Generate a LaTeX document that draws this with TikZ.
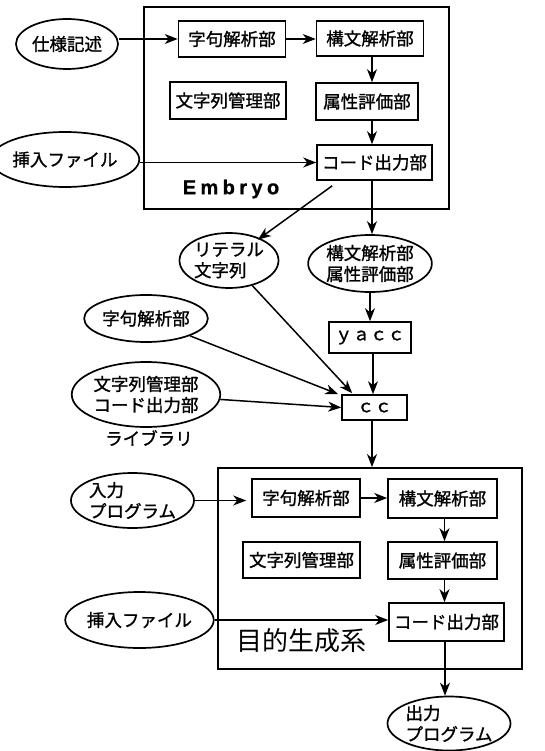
\documentclass[tikz,border=0pt]{standalone}
\usepackage{fontspec}
\setmainfont{Noto Sans CJK JP}
\newfontfamily\jpb[FakeBold=1.2]{Noto Sans CJK JP}
\newfontfamily\embfont[LetterSpace=22,FakeBold=1]{Liberation Sans Bold}
\usetikzlibrary{shapes.geometric,arrows.meta,calc}
\tikzset{
  arr/.style={-{Stealth[length=13pt,width=10pt,inset=4pt]},line width=1.5pt},
  lbox/.style={draw,line width=1.6pt,rectangle,inner sep=0pt,font=\jpb\fontsize{17.5}{21}\selectfont},
  oval/.style={draw,line width=1.7pt,ellipse,inner sep=0pt,font=\jpb\fontsize{17.5}{21}\selectfont},
  frame/.style={draw,line width=1.8pt},
  lbl/.style={inner sep=0pt,font=\jpb\fontsize{17.5}{21}\selectfont}
}
\begin{document}
\begin{tikzpicture}[x=1pt,y=-1pt]
\useasboundingbox (0,0) rectangle (544,751);
% ---------- Embryo ----------
\node[frame,minimum width=305pt,minimum height=202pt,inner sep=0pt] (emb) at (296.5,108) {};
\node[inner sep=0pt,font=\embfont\fontsize{20}{24}\selectfont] (embt) at (231,189) {Embryo};
\node[oval,minimum width=102pt,minimum height=50pt] (spec) at (67,44) {仕様記述};
\node[lbox,minimum width=107pt,minimum height=36pt] (lex1) at (232,39) {字句解析部};
\node[lbox,minimum width=107pt,minimum height=35pt] (syn1) at (370,38.5) {構文解析部};
\node[lbox,minimum width=116pt,minimum height=37pt] (str1) at (228,100.5) {文字列管理部};
\node[lbox,minimum width=102pt,minimum height=37pt] (att1) at (367,101.5) {属性評価部};
\node[oval,minimum width=116pt,minimum height=55pt] (ins1) at (65,159.5) {挿入ファイル};
\node[lbox,minimum width=115pt,minimum height=35pt] (code1) at (374.5,162.5) {コード出力部};
% ---------- middle ----------
\node[oval,minimum width=98pt,minimum height=55pt,align=left] (lit) at (229,260.5) {リテラル\\文字列};
\node[oval,minimum width=116pt,minimum height=57pt,align=center] (synatt) at (370,263.5) {構文解析部\\属性評価部};
\node[oval,minimum width=110pt,minimum height=47pt] (lexo) at (146,318.5) {字句解析部};
\node[lbox,minimum width=82pt,minimum height=31pt] (yacc) at (370,337.5) {ｙａｃｃ};
\node[oval,minimum width=148pt,minimum height=65pt,align=center] (strcode) at (146,394.5) {文字列管理部\\コード出力部};
\node[lbl] (lib) at (149,438) {ライブラリ};
\node[lbox,minimum width=65pt,minimum height=25pt] (cc) at (374.5,407.5) {ｃｃ};
% ---------- target system ----------
\node[frame,minimum width=304pt,minimum height=201pt,inner sep=0pt] (tgt) at (370,568.5) {};
\node[inner sep=0pt,font=\fontsize{26}{30}\selectfont] (tgtt) at (301,641) {目的生成系};
\node[oval,minimum width=121pt,minimum height=55pt,align=left] (inp) at (132.5,500.5) {入力\\プログラム};
\node[lbox,minimum width=108pt,minimum height=38pt] (lex2) at (306,498) {字句解析部};
\node[lbox,minimum width=109pt,minimum height=39pt] (syn2) at (442.5,498.5) {構文解析部};
\node[lbox,minimum width=117pt,minimum height=36pt] (str2) at (301.5,560) {文字列管理部};
\node[lbox,minimum width=109pt,minimum height=37pt] (att2) at (442.5,560.5) {属性評価部};
\node[oval,minimum width=115pt,minimum height=56pt] (ins2) at (139.5,620) {挿入ファイル};
\node[lbox,minimum width=115pt,minimum height=38pt] (code2) at (446.5,622) {コード出力部};
\node[oval,minimum width=120pt,minimum height=54pt,align=left] (outp) at (449,723.5) {出力\\プログラム};
% ---------- connectors: Embryo ----------
\draw[arr] (spec.east |- lex1) -- (lex1.west);
\draw[arr] (lex1.east) -- (lex1.east -| syn1.west);
\draw[arr] ([xshift=2pt]syn1.south) -- ([xshift=2pt]syn1.south |- att1.north);
\draw[arr] ([xshift=5pt]att1.south) -- ([xshift=5pt]att1.south |- code1.north);
\draw[arr] (ins1.east |- code1) -- (code1.west);
\coordinate (c1a) at ($(code1.south west)+(16,5)$);
\draw[arr] (c1a) -- ($(c1a)!0.72!(lit.center)$);
\draw[arr] ([xshift=-2.5pt]code1.south) -- ([xshift=-2.5pt]code1.south |- synatt.north);
% ---------- connectors: middle ----------
\draw[arr] (synatt.south -| yacc.north) -- (yacc.north);
\draw[arr] ([xshift=3pt]yacc.south) -- ([xshift=3pt]yacc.south |- cc.north);
\draw[arr] (lit) -- ($(cc.north west)+(11,-1)$);
\draw[arr] (lexo) -- ($(cc.north west)+(-3,0)$);
\draw[arr] (strcode) -- (cc.west);
\draw[arr] ([xshift=-2.5pt]cc.south) -- ([xshift=-2.5pt]cc.south |- tgt.north);
% ---------- connectors: target ----------
\draw[arr] (inp.east) -- ([xshift=-5pt]lex2.west |- inp.east);
\draw[arr] (lex2.east) -- (lex2.east -| syn2.west);
\draw[arr] ([xshift=2pt]syn2.south) -- ([xshift=2pt]syn2.south |- att2.north);
\draw[arr] ([xshift=2pt]att2.south) -- ([xshift=2pt]att2.south |- code2.north);
\draw[arr] (ins2.east) -- (ins2.east -| code2.west);
\draw[arr] ([xshift=-1.5pt]code2.south) -- ([xshift=-1.5pt]code2.south |- outp.north);
\end{tikzpicture}
\end{document}
